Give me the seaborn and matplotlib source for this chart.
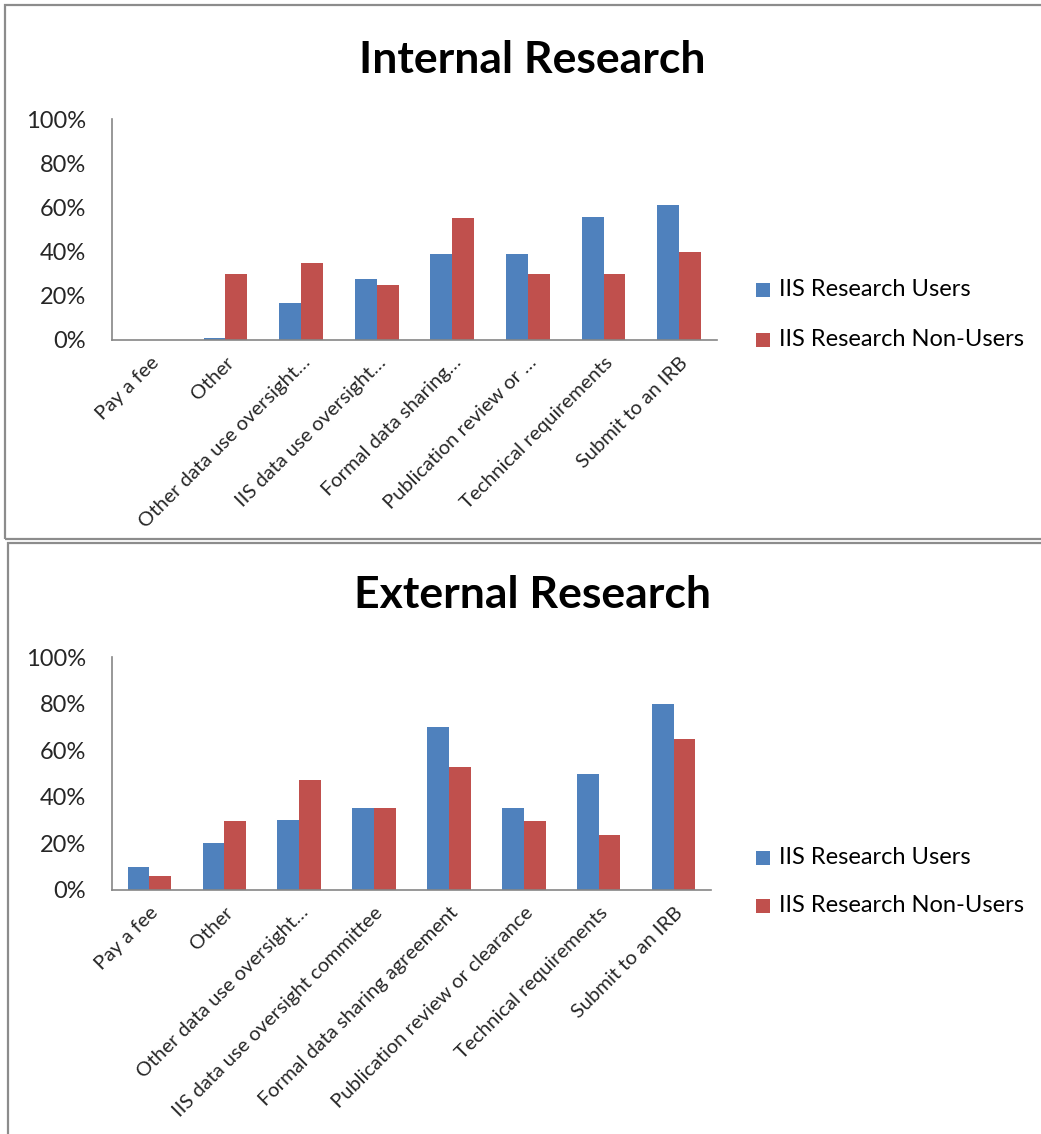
import matplotlib
matplotlib.use("Agg")
import matplotlib.pyplot as plt
from matplotlib.patches import Rectangle
from matplotlib.ticker import PercentFormatter, FixedLocator
import seaborn as sns
import pandas as pd

sns.set_theme(style="white")
plt.rcParams["font.family"] = ["Lato", "DejaVu Sans"]

categories = ["Pay a fee", "Other", "Other data use oversight", "IIS data use oversight committee",
              "Formal data sharing agreement", "Publication review or clearance",
              "Technical requirements", "Submit to an IRB"]

internal_labels = ["Pay a fee", "Other", "Other data use oversight\u2026", "IIS data use oversight\u2026",
                   "Formal data sharing\u2026", "Publication review or \u2026",
                   "Technical requirements", "Submit to an IRB"]
external_labels = ["Pay a fee", "Other", "Other data use oversight\u2026", "IIS data use oversight committee",
                   "Formal data sharing agreement", "Publication review or clearance",
                   "Technical requirements", "Submit to an IRB"]

series = ["IIS Research Users", "IIS Research Non-Users"]

internal_users = [0.0, 0.01, 0.167, 0.278, 0.389, 0.389, 0.556, 0.611]
internal_nonusers = [0.0, 0.30, 0.35, 0.25, 0.55, 0.30, 0.30, 0.40]

external_users = [0.10, 0.20, 0.30, 0.35, 0.70, 0.35, 0.50, 0.80]
external_nonusers = [0.059, 0.294, 0.47, 0.353, 0.53, 0.294, 0.235, 0.647]

colors = ["#4F81BD", "#C0504D"]
grey = "#868686"


def long_table(users, nonusers):
    return pd.DataFrame({
        "category": categories * 2,
        "group": [series[0]] * len(categories) + [series[1]] * len(categories),
        "value": list(users) + list(nonusers),
    })


W, H = 1041, 1134
fig = plt.figure(figsize=(W / 100, H / 100), dpi=100)

# panel frames
fig.patches.append(Rectangle((5 / W, 1 - 539 / H), 1.1, 534 / H, transform=fig.transFigure,
                             fill=False, edgecolor="#8c8c8c", linewidth=1.6, figure=fig))
fig.patches.append(Rectangle((8 / W, -0.1), 1.1, 1 - 543 / H + 0.1, transform=fig.transFigure,
                             fill=False, edgecolor="#8c8c8c", linewidth=1.6, figure=fig))

panels = [
    ("Internal Research", internal_users, internal_nonusers, internal_labels,
     [112 / W, 1 - 340 / H, 605 / W, 221 / H], 60, (290, 340)),
    ("External Research", external_users, external_nonusers, external_labels,
     [112 / W, 1 - 890 / H, 599 / W, 233 / H], 595, (858, 906)),
]

for title, users, nonusers, labels, rect, title_y, leg_y in panels:
    ax = fig.add_axes(rect)
    df = long_table(users, nonusers)
    sns.barplot(data=df, x="category", y="value", hue="group", order=categories,
                hue_order=series, palette=colors, width=0.58, gap=0, ax=ax,
                saturation=1, edgecolor="none", legend=False)
    ax.set_xlim(-0.5, len(categories) - 0.5)
    ax.set_ylim(0, 1)
    ax.set_xlabel("")
    ax.set_ylabel("")
    ax.yaxis.set_major_locator(FixedLocator([0, 0.2, 0.4, 0.6, 0.8, 1.0]))
    ax.yaxis.set_major_formatter(PercentFormatter(1.0, decimals=0))
    ax.set_xticks(range(len(categories)))
    ax.set_xticklabels(labels, rotation=45, ha="right", rotation_mode="anchor", fontsize=14.5)
    ax.set_xticks([i - 0.5 for i in range(len(categories) + 1)], minor=True)
    ax.tick_params(axis="x", which="major", length=0, pad=10)
    ax.tick_params(axis="x", which="minor", length=5.5, width=1.2, color=grey, direction="out")
    ax.tick_params(axis="y", length=5.5, width=1.2, color=grey, direction="out", labelsize=17, pad=13)
    for s in ["top", "right"]:
        ax.spines[s].set_visible(False)
    for s in ["left", "bottom"]:
        ax.spines[s].set_color(grey)
        ax.spines[s].set_linewidth(1.2)

    fig.text(532 / W, 1 - title_y / H, title, ha="center", va="center",
             fontsize=32, fontweight="bold", color="black")

    for name, color, y in zip(series, colors, leg_y):
        fy = 1 - y / H
        fig.patches.append(Rectangle((756 / W, fy - 7 / H), 14 / W, 14 / H,
                                     transform=fig.transFigure, facecolor=color,
                                     edgecolor="none", figure=fig))
        fig.text(779 / W, fy, name, ha="left", va="center", fontsize=17, color="black")

fig.savefig("out.png", dpi=100, facecolor="white")
